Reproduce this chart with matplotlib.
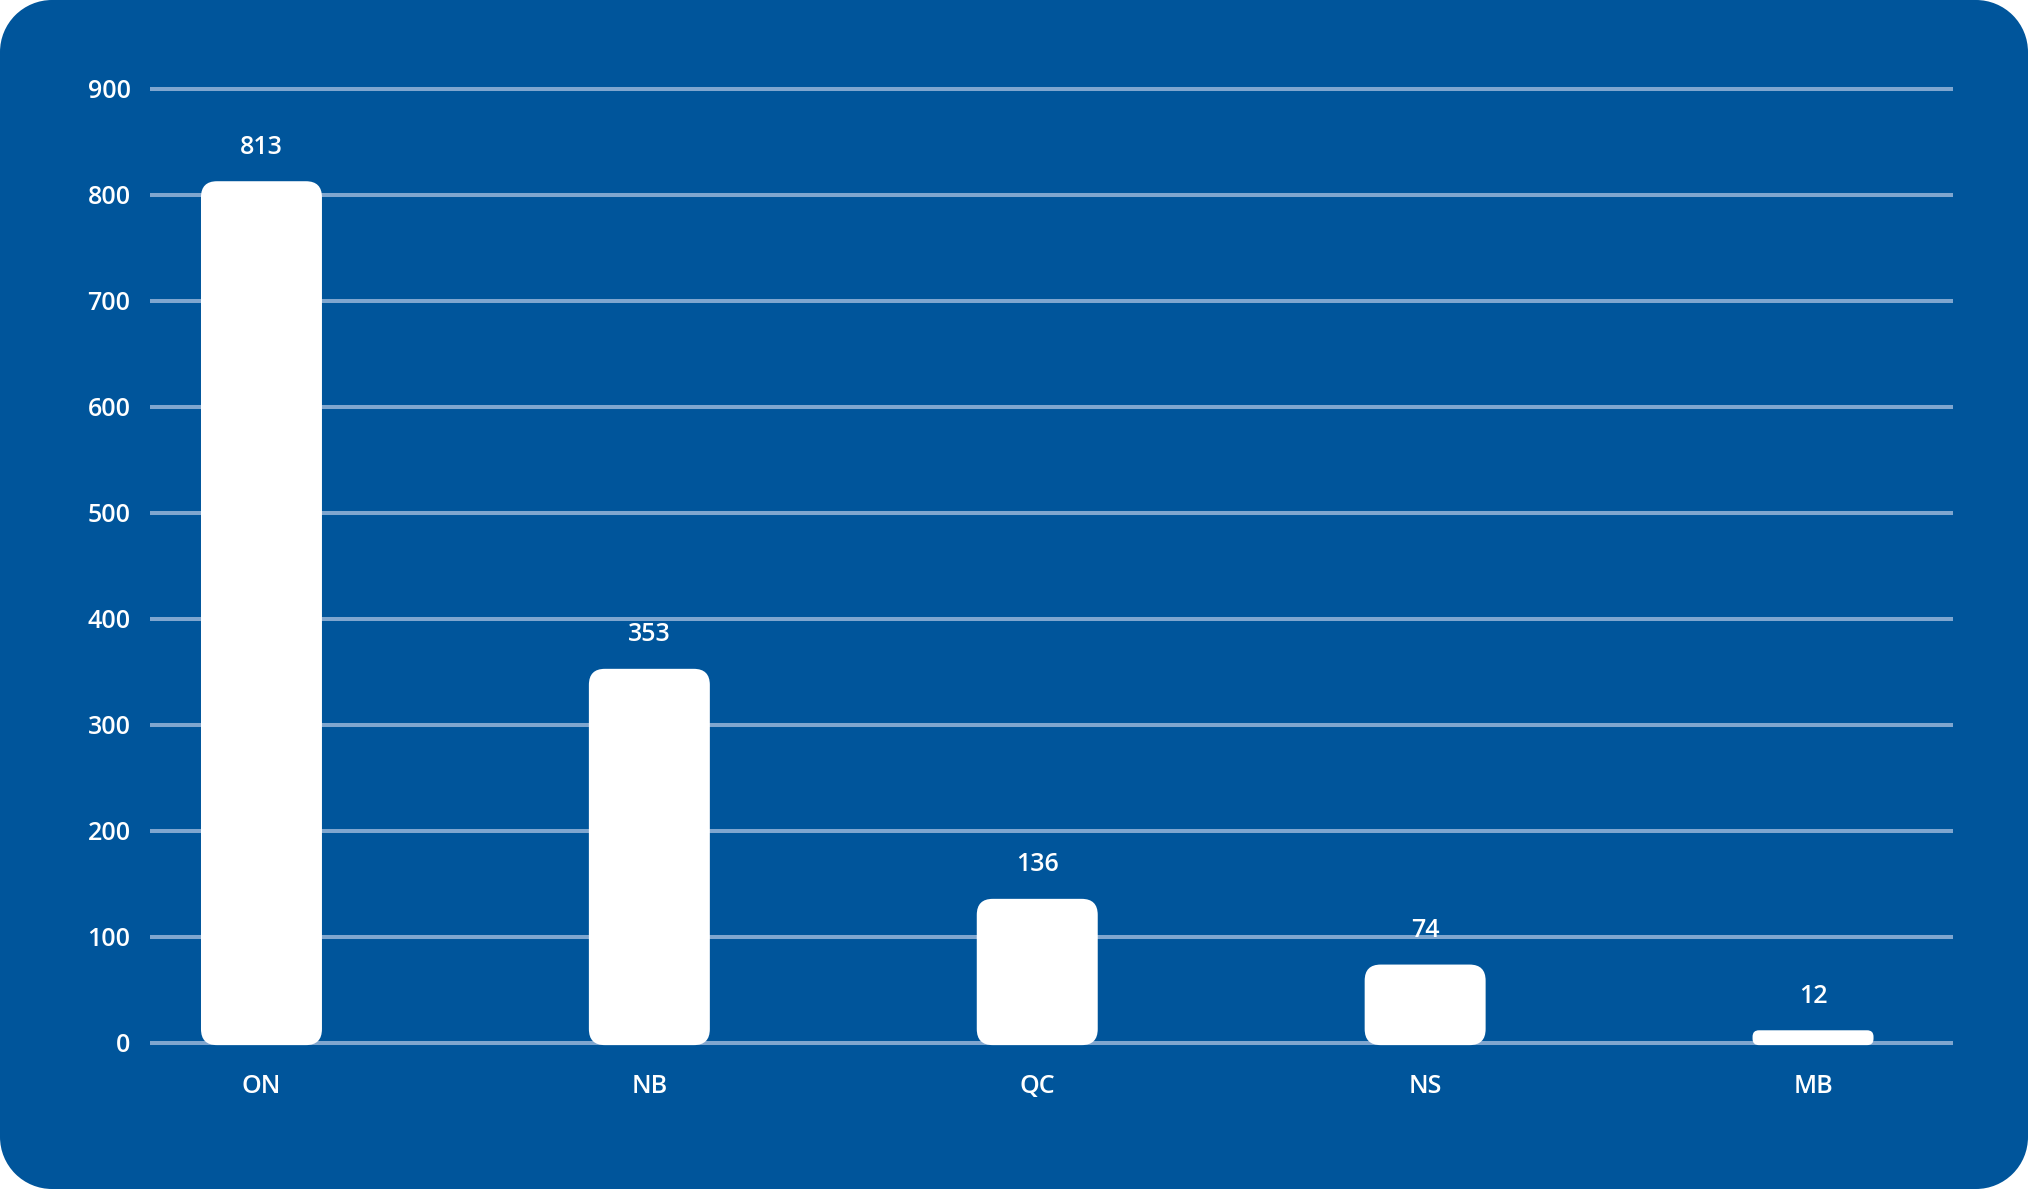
import matplotlib
matplotlib.use("Agg")
import matplotlib.pyplot as plt
from matplotlib.patches import FancyBboxPatch, Rectangle, Circle

categories = ["ON", "NB", "QC", "NS", "MB"]
values = [813, 353, 136, 74, 12]
yticks = [0, 100, 200, 300, 400, 500, 600, 700, 800, 900]

W, H, DPI = 2028, 1189, 100
BG = "#00559b"
GRID = "#7fa6cf"
FONT = ["Open Sans", "DejaVu Sans"]
FS = 18
FW = 600

fig = plt.figure(figsize=(W / DPI, H / DPI), dpi=DPI, facecolor="white")

# rounded background card (exact circular corners)
bg = fig.add_axes([0, 0, 1, 1], zorder=0)
bg.set_xlim(0, W)
bg.set_ylim(0, H)
bg.axis("off")
R = 52
bg.add_patch(Rectangle((R, 0), W - 2 * R, H, facecolor=BG, edgecolor="none"))
bg.add_patch(Rectangle((0, R), W, H - 2 * R, facecolor=BG, edgecolor="none"))
for cx, cy in [(R, R), (W - R, R), (R, H - R), (W - R, H - R)]:
    bg.add_patch(Circle((cx, cy), R, facecolor=BG, edgecolor="none"))

# main axes, placed by pixel geometry
px_per_x = 388.0
left_px, right_px = 150.0, 1953.0
x0 = -111.5 / px_per_x
x1 = len(categories) - 1 + 140.0 / px_per_x
ymin, ymax = -10, 920
y0_px = 1043.0          # pixel row of value 0 (from top)
px_per_y = 954.0 / 900.0
bottom_px = y0_px + (0 - ymin) * px_per_y
top_px = y0_px - (ymax - 0) * px_per_y

ax = fig.add_axes([left_px / W, (H - bottom_px) / H,
                   (right_px - left_px) / W, (bottom_px - top_px) / H], zorder=1)
ax.set_facecolor("none")
ax.set_xlim(x0, x1)
ax.set_ylim(ymin, ymax)
for s in ax.spines.values():
    s.set_visible(False)

for t in yticks:
    ax.axhline(t, color=GRID, lw=2.9, zorder=1, solid_capstyle="butt")

bar_w = 121.0 / px_per_x
aspect = px_per_x / px_per_y
r_base = 16.0 / px_per_x
for i, (c, v) in enumerate(zip(categories, values)):
    r = min(r_base, v / aspect / 2.0, bar_w / 2.0)
    ax.add_patch(FancyBboxPatch((i - bar_w / 2, -2), bar_w, v + 2,
                                boxstyle=f"round,pad=0,rounding_size={r}",
                                mutation_aspect=aspect,
                                facecolor="white", edgecolor="none", zorder=3))
    ax.text(i, v + 34 / px_per_y, f"{v}", ha="center", va="center",
            color="white", fontsize=FS, family=FONT, fontweight=FW, zorder=4)

ax.set_xticks(range(len(categories)))
ax.set_xticklabels(categories)
ax.set_yticks(yticks)
ax.set_yticklabels([str(t) for t in yticks])
ax.tick_params(axis="both", length=0, colors="white", labelsize=FS)
ax.tick_params(axis="y", pad=14)
ax.tick_params(axis="x", pad=15)
for lab in ax.get_xticklabels() + ax.get_yticklabels():
    lab.set_family(FONT)
    lab.set_fontweight(FW)
    lab.set_color("white")

fig.savefig("out.png", dpi=DPI, facecolor="white")
